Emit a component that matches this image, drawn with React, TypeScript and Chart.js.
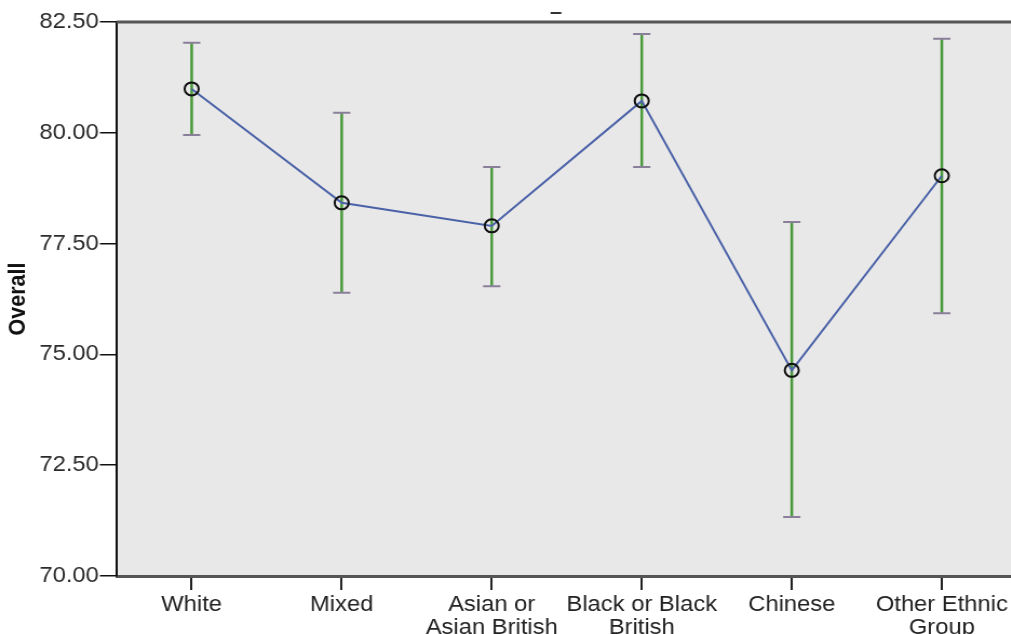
import React, { useEffect, useRef } from "react";
import { Chart, registerables } from "chart.js";

Chart.register(...registerables);

const categories: string[][] = [
  ["White"],
  ["Mixed"],
  ["Asian or", "Asian British"],
  ["Black or Black", "British"],
  ["Chinese"],
  ["Other Ethnic", "Group"],
];
const means = [80.99, 78.42, 77.9, 80.72, 74.64, 79.03];
const upperCI = [82.03, 80.45, 79.23, 82.23, 77.99, 82.12];
const lowerCI = [79.95, 76.39, 76.54, 79.23, 71.33, 75.93];
const yMin = 70;
const yMax = 82.5;
const yStep = 2.5;
const yTitle = "Overall";

const FONT = "'Liberation Sans', Arial, sans-serif";

const bgPlugin = {
  id: "plotBg",
  beforeDraw(chart: any) {
    const { ctx, chartArea: a } = chart;
    ctx.save();
    ctx.fillStyle = "#e8e8e8";
    ctx.fillRect(a.left, a.top, a.right - a.left, a.bottom - a.top);
    ctx.restore();
  },
  afterDraw(chart: any) {
    const { ctx, chartArea: a } = chart;
    ctx.save();
    ctx.strokeStyle = "#555";
    ctx.lineWidth = 3;
    ctx.beginPath();
    ctx.moveTo(a.left, a.top);
    ctx.lineTo(a.right, a.top);
    ctx.stroke();
    // small title remnant
    const cx = (a.left + a.right) / 2 - 10;
    ctx.strokeStyle = "#333";
    ctx.lineWidth = 2;
    ctx.beginPath();
    ctx.moveTo(cx - 5, a.top - 9);
    ctx.lineTo(cx + 5, a.top - 9);
    ctx.stroke();
    ctx.restore();
  },
};

const errorBarPlugin = {
  id: "errorBars",
  beforeDatasetsDraw(chart: any) {
    const { ctx } = chart;
    const xs = chart.scales.x;
    const ys = chart.scales.y;
    ctx.save();
    for (let i = 0; i < means.length; i++) {
      const x = xs.getPixelForValue(i);
      const yU = ys.getPixelForValue(upperCI[i]);
      const yL = ys.getPixelForValue(lowerCI[i]);
      ctx.strokeStyle = "#4a9a3c";
      ctx.lineWidth = 2.5;
      ctx.beginPath();
      ctx.moveTo(x, yU);
      ctx.lineTo(x, yL);
      ctx.stroke();
      ctx.strokeStyle = "#8a7f9a";
      ctx.lineWidth = 2;
      ctx.beginPath();
      ctx.moveTo(x - 8, yU);
      ctx.lineTo(x + 8, yU);
      ctx.moveTo(x - 8, yL);
      ctx.lineTo(x + 8, yL);
      ctx.stroke();
    }
    ctx.restore();
  },
};

export default function App() {
  const ref = useRef<HTMLCanvasElement>(null);
  useEffect(() => {
    if (!ref.current) return;
    const chart = new Chart(ref.current, {
      type: "line",
      data: {
        labels: categories,
        datasets: [
          {
            data: means,
            borderColor: "#4b62a8",
            borderWidth: 2,
            pointRadius: 6.5,
            pointBorderWidth: 2,
            pointBorderColor: "#111",
            pointBackgroundColor: "rgba(0,0,0,0)",
            tension: 0,
          },
        ],
      },
      options: {
        responsive: false,
        animation: false,
        layout: { padding: { left: 0, right: 2, top: 22, bottom: 0 } },
        plugins: { legend: { display: false }, tooltip: { enabled: false } },
        scales: {
          x: {
            type: "category",
            offset: true,
            afterFit(scale: any) {
              scale.height = 58;
            },
            grid: {
              drawOnChartArea: false,
              drawTicks: true,
              tickLength: 14,
              color: "#222",
              lineWidth: 2,
            },
            border: { display: true, color: "#555", width: 3 },
            ticks: {
              autoSkip: false,
              maxRotation: 0,
              minRotation: 0,
              padding: 3,
              color: "#222",
              font: { family: FONT, size: 22, lineHeight: 1.05 },
            },
          },
          y: {
            min: yMin,
            max: yMax,
            afterFit(scale: any) {
              scale.width = 108;
            },
            grid: {
              drawOnChartArea: false,
              drawTicks: true,
              tickLength: 15.5,
              color: "#111",
              lineWidth: 1.5,
            },
            border: { display: true, color: "#111", width: 2 },
            ticks: {
              stepSize: yStep,
              padding: 1,
              color: "#2a2a2a",
              font: { family: FONT, size: 22 },
              callback: (v: any) => Number(v).toFixed(2),
            },
            title: {
              display: true,
              text: yTitle,
              color: "#111",
              font: { family: FONT, size: 21.5, weight: "bold", lineHeight: 1.2 },
              padding: { top: 4, bottom: 0 },
            },
          },
        },
      },
      plugins: [bgPlugin, errorBarPlugin],
    });
    return () => chart.destroy();
  }, []);

  return (
    <div
      style={{
        position: "fixed",
        left: 0,
        top: 0,
        width: 1011,
        height: 634,
        overflow: "hidden",
        background: "#fff",
      }}
    >
      <div style={{ transform: "scaleX(1.08)", transformOrigin: "0 0", width: 950 }}>
        <canvas ref={ref} width={950} height={634} style={{ display: "block" }} />
      </div>
    </div>
  );
}
